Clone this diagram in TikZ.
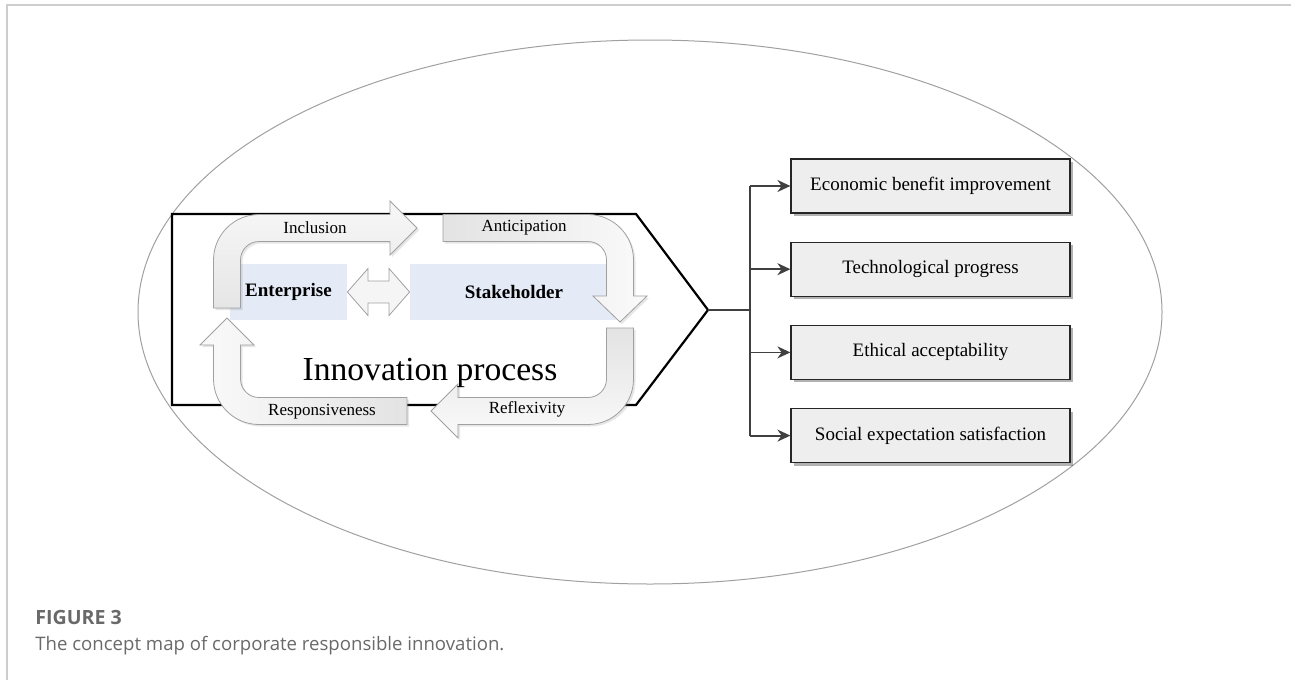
\documentclass[tikz,border=0pt]{standalone}
\usepackage{fontspec}
\setmainfont{Liberation Serif}
\newfontfamily\capfont{Open Sans}
\usepackage{tikz}
\usetikzlibrary{positioning,shadows,calc}
\usetikzlibrary{arrows.meta}
\definecolor{loopline}{RGB}{160,160,160}
\definecolor{boxfill}{RGB}{238,238,238}
\definecolor{actorfill}{RGB}{228,234,246}
\definecolor{branchline}{RGB}{64,64,64}
\definecolor{framegray}{RGB}{205,205,205}
\definecolor{capgray}{RGB}{105,105,105}
\tikzstyle{outcome} = [draw=black!85, line width=0.6pt, fill=boxfill, minimum width=139.5pt, minimum height=27pt, font=\fontsize{9.5}{11}\selectfont, drop shadow={shadow xshift=1.5pt, shadow yshift=-1.5pt, fill=black, opacity=0.3}]
\tikzstyle{arrow} = [line width=0.9pt, draw=branchline, ->, >={Stealth[length=6.5pt,width=6pt]}]
\tikzstyle{loop} = [draw=loopline, line width=0.4pt, drop shadow={shadow xshift=1pt, shadow yshift=-1pt, opacity=0.2}]
\tikzstyle{actor} = [fill=actorfill, inner sep=0pt, minimum height=28pt, font=\fontsize{9.5}{11}\selectfont\bfseries]
\tikzstyle{phase} = [inner sep=0pt, font=\fontsize{8.5}{10}\selectfont]

\begin{document}
\begin{tikzpicture}[x=0.5pt, y=-0.5pt]
        \useasboundingbox (0,0) rectangle (1291,680);
        \draw[framegray, line width=1pt] (7,680) -- (7,5) -- (1291,5);
        \draw[loopline, line width=0.5pt] (650,312) ellipse [x radius=512, y radius=272];
        % process frame
        \draw[line width=1.1pt] (172,214) -- (636,214) -- (708,310) coordinate (tip) -- (636,405) -- (172,405) -- cycle;
        \node[actor, minimum width=58.5pt] (ent) at (288.5,292) {Enterprise}; \node[actor, minimum width=104pt] (stk) at (514,292) {Stakeholder};
        \draw[loopline, fill=gray!8] (ent.east) -- (368,268.5) -- (368,281) -- (389,281) -- (389,268.5) -- (stk.west) -- (389,315.5) -- (389,303) -- (368,303) -- (368,315.5) -- cycle;
        % the four loop arrows
        \draw[loop, bottom color=gray!20, top color=gray!6] (213.5,308) -- (213.5,260) arc[start angle=180, end angle=270, radius=45.5] -- (390,214.5) -- (390,201) -- (417,228) -- (390,255) -- (390,241.5) -- (259,241.5) arc[start angle=270, end angle=180, radius=18.5] -- (240.5,308) -- cycle;
        \draw[loop, left color=gray!22, right color=gray!4] (443,214.5) -- (588,214.5) arc[start angle=270, end angle=360, radius=45.5] -- (633.5,296) -- (647,296) -- (620,322) -- (593,296) -- (606.5,296) -- (606.5,260) arc[start angle=360, end angle=270, radius=18.5] -- (443,241.5) -- cycle;
        \draw[loop, top color=gray!22, bottom color=gray!4] (606.5,328) -- (633.5,328) -- (633.5,379) arc[start angle=0, end angle=90, radius=45.5] -- (458,424.5) -- (458,438) -- (431,411) -- (458,384) -- (458,397.5) -- (588,397.5) arc[start angle=90, end angle=0, radius=18.5] -- cycle;
        \draw[loop, right color=gray!22, left color=gray!4] (407,397.5) -- (407,424.5) -- (259,424.5) arc[start angle=90, end angle=180, radius=45.5] -- (213.5,345) -- (200,345) -- (227,318) -- (254,345) -- (240.5,345) -- (240.5,379) arc[start angle=180, end angle=90, radius=18.5] -- cycle;
        \node[phase] (inc) at (315,228) {Inclusion}; \node[phase] (ant) at (524,228) {Anticipation};
        \node[phase] (ref) at (527,409) {Reflexivity}; \node[phase] (res) at (322,412) {Responsiveness};
        \node[inner sep=0pt, anchor=base, font=\fontsize{16.8}{19}\selectfont] (proc) at (430,380) {Innovation process};
        % outcomes
        \node[outcome] (eco) at (930.5,186) {Economic benefit improvement};
        \node[outcome, below=14pt of eco] (tech) {Technological progress};
        \node[outcome, below=14pt of tech] (eth) {Ethical acceptability};
        \node[outcome, below=14pt of eth] (soc) {Social expectation satisfaction};
        \coordinate (br) at (750,310);
        \draw[branchline, line width=0.9pt] (tip) -- (br);
        \draw[branchline, line width=0.9pt] (br |- eco.west) -- (br |- soc.west);
        \foreach \n in {eco,tech,eth,soc}
            \draw[arrow] (br |- \n.west) -- (\n.west);
        \node[anchor=west, inner sep=0pt, text=capgray, font=\capfont\fontsize{9.8}{11}\selectfont\bfseries] (fig) at (35,617) {FIGURE 3};
        \node[anchor=west, inner sep=0pt, text=capgray, font=\capfont\fontsize{9.3}{11}\selectfont] (cap) at (35,646) {The concept map of corporate responsible innovation.};
\end{tikzpicture}
\end{document}
